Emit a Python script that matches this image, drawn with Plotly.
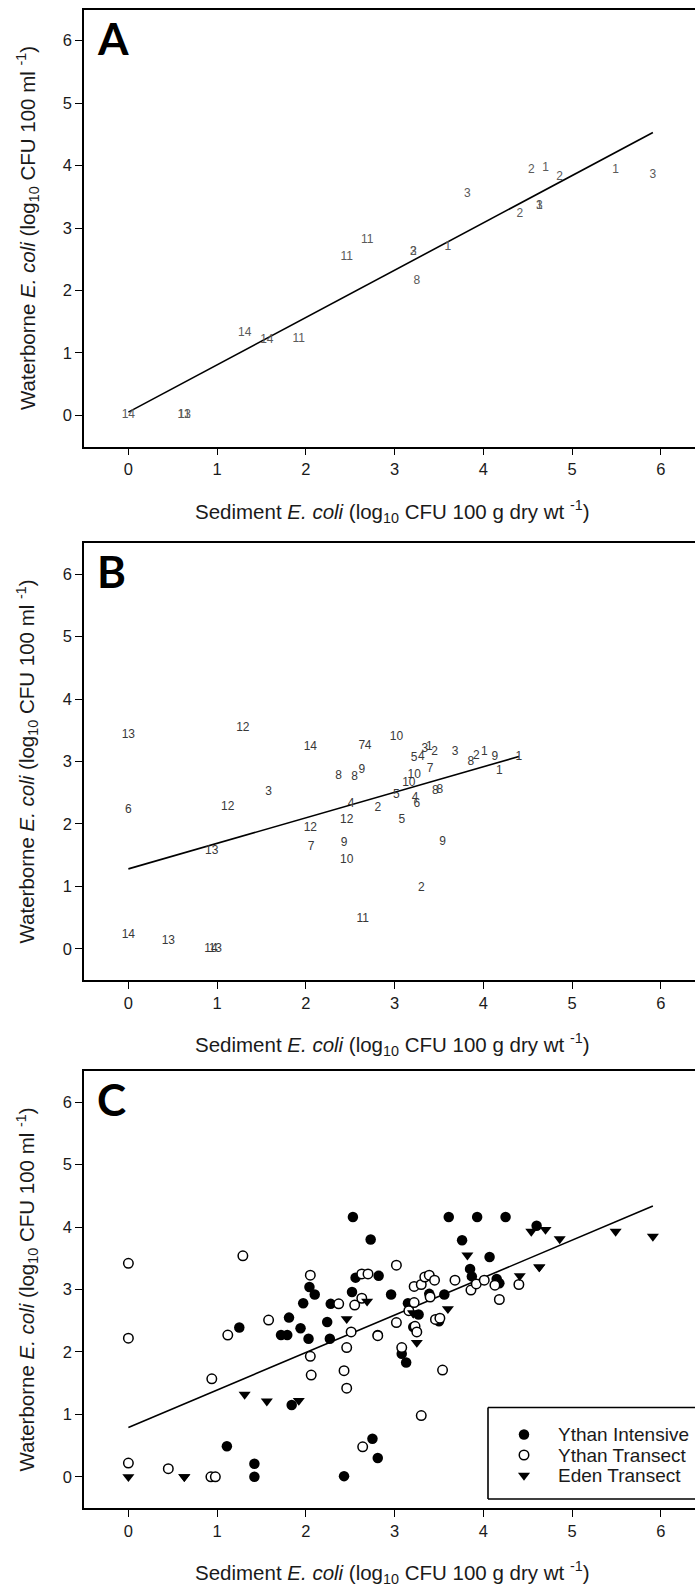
import plotly.graph_objects as go

# ---------------- data ----------------
# Panel A: Eden Transect (labels = site numbers)
a_site = ["14", "11", "13", "14", "14", "11", "11", "11", "2", "3", "8", "1",
          "3", "2", "3", "1", "2", "1", "2", "1", "3"]
a_sed = [0.00, 0.63, 0.63, 1.31, 1.56, 1.92, 2.46, 2.69, 3.21, 3.21, 3.25, 3.60,
         3.82, 4.41, 4.63, 4.63, 4.54, 4.70, 4.86, 5.49, 5.91]
a_water = [0.00, 0.00, 0.00, 1.32, 1.21, 1.22, 2.53, 2.81, 2.62, 2.62, 2.15, 2.69,
           3.55, 3.22, 3.36, 3.36, 3.93, 3.96, 3.81, 3.93, 3.85]

# Panel B: Ythan Transect (labels = site numbers)
b_site = ["13", "6", "14", "13", "14", "13", "13", "12", "12", "3", "14", "12",
          "7", "8", "8", "9", "12", "4", "9", "10", "7", "4", "2", "11",
          "10", "5", "5", "10", "10", "5", "4", "3", "1", "2", "7", "4",
          "6", "8", "8", "9", "2", "3", "8", "2", "1", "9", "1", "1"]
b_sed = [0.00, 0.00, 0.00, 0.45, 0.93, 0.98, 0.94, 1.12, 1.29, 1.58, 2.05, 2.05,
         2.06, 2.37, 2.55, 2.63, 2.46, 2.51, 2.43, 2.46, 2.63, 2.70, 2.81, 2.64,
         3.02, 3.08, 3.02, 3.16, 3.22, 3.22, 3.30, 3.34, 3.39, 3.45, 3.40, 3.23,
         3.25, 3.46, 3.51, 3.54, 3.30, 3.68, 3.86, 3.92, 4.01, 4.13, 4.18, 4.40]
b_water = [3.42, 2.22, 0.22, 0.13, 0.00, 0.00, 1.57, 2.27, 3.54, 2.51, 3.23, 1.93,
           1.63, 2.77, 2.75, 2.86, 2.07, 2.32, 1.70, 1.42, 3.25, 3.25, 2.26, 0.48,
           3.39, 2.07, 2.47, 2.66, 2.79, 3.05, 3.08, 3.20, 3.23, 3.15, 2.88, 2.41,
           2.32, 2.52, 2.54, 1.71, 0.98, 3.15, 2.99, 3.09, 3.15, 3.07, 2.84, 3.08]

# Panel C extra series: Ythan Intensive
i_sed = [2.53, 3.61, 3.93, 4.25, 2.73, 3.76, 4.60, 4.07, 3.85, 3.87, 4.15, 4.18,
         2.82, 2.56, 2.52, 2.96, 2.04, 2.10, 1.97, 2.28, 1.81, 2.24, 1.25, 1.94,
         1.72, 1.79, 2.03, 2.27, 3.56, 3.39, 3.15, 3.27, 3.21, 3.50, 3.08, 3.13,
         2.81, 1.84, 2.75, 2.81, 1.11, 1.42, 1.42, 2.43]
i_water = [4.16, 4.16, 4.16, 4.16, 3.80, 3.79, 4.02, 3.52, 3.33, 3.21, 3.17, 3.10,
           3.22, 3.19, 2.96, 2.92, 3.04, 2.92, 2.78, 2.77, 2.55, 2.48, 2.39, 2.38,
           2.27, 2.27, 2.21, 2.21, 2.92, 2.93, 2.78, 2.60, 2.40, 2.49, 1.97, 1.83,
           2.27, 1.15, 0.61, 0.30, 0.49, 0.21, 0.00, 0.01]

# regression lines: (intercept, slope)
fit_A = (0.05, 0.758)
fit_B = (1.28, 0.409)
fit_C = (0.79, 0.600)

ticks = [0, 1, 2, 3, 4, 5, 6]
legend_names = ["Ythan Intensive", "Ythan Transect", "Eden Transect"]
panel_letters = ["A", "B", "C"]

# ---------------- layout geometry (pixels) ----------------
W, H = 695, 1587
BOX_L = 84
TOPS = [9.5, 543, 1071]
PH = 437
X_RANGE = [-0.5, -0.5 + (W - BOX_L) / 88.75]
Y_RANGE = [-0.5, 6.5]

AX_FONT = dict(family="Liberation Sans, Arial, sans-serif", size=16.5, color="#1a1a1a")
LBL_FONT = "Liberation Sans, Arial, sans-serif"

fig = go.Figure()


def fit_line(fit, xs, xa, ya):
    b0, b1 = fit
    x0, x1 = min(xs), max(xs)
    fig.add_trace(go.Scatter(x=[x0, x1], y=[b0 + b1 * x0, b0 + b1 * x1], mode="lines",
                             line=dict(color="black", width=1.6), xaxis=xa, yaxis=ya,
                             hoverinfo="skip"))


# Panel A
fit_line(fit_A, a_sed, "x", "y")
fig.add_trace(go.Scatter(x=a_sed, y=a_water, text=a_site, mode="text",
                         textfont=dict(family=LBL_FONT, size=12, color="#5a5a5a"),
                         xaxis="x", yaxis="y", cliponaxis=False))
# Panel B
fit_line(fit_B, b_sed, "x2", "y2")
fig.add_trace(go.Scatter(x=b_sed, y=b_water, text=b_site, mode="text",
                         textfont=dict(family=LBL_FONT, size=12, color="#383838"),
                         xaxis="x2", yaxis="y2", cliponaxis=False))
# Panel C
fit_line(fit_C, a_sed + b_sed + i_sed, "x3", "y3")
fig.add_trace(go.Scatter(x=i_sed, y=i_water, mode="markers", name=legend_names[0],
                         marker=dict(symbol="circle", size=10.5, color="black", line=dict(width=0)),
                         xaxis="x3", yaxis="y3"))
fig.add_trace(go.Scatter(x=b_sed, y=b_water, mode="markers", name=legend_names[1],
                         marker=dict(symbol="circle", size=9.5, color="white",
                                     line=dict(width=1.5, color="black")),
                         xaxis="x3", yaxis="y3"))
fig.add_trace(go.Scatter(x=a_sed, y=a_water, mode="markers", name=legend_names[2],
                         marker=dict(symbol="triangle-down", size=10.5, color="black", line=dict(width=0)),
                         xaxis="x3", yaxis="y3"))

layout = dict(width=W, height=H, margin=dict(l=0, r=0, t=0, b=0),
              plot_bgcolor="white", paper_bgcolor="white", showlegend=False)

annotations = []
shapes = []
xtitle = "Sediment <i>E. coli</i> (log<sub>10</sub> CFU 100 g dry wt <sup>-1</sup>)"
ytitle = "Waterborne <i>E. coli</i> (log<sub>10</sub> CFU 100 ml <sup>-1</sup>)"
TITLE_FONT = dict(family=LBL_FONT, size=20.5, color="#1a1a1a")

for k, top in enumerate(TOPS):
    sfx = "" if k == 0 else str(k + 1)
    ydom = [1 - (top + PH) / H, 1 - top / H]
    common = dict(showline=True, linecolor="black", linewidth=1.6, ticks="outside",
                  ticklen=7, tickwidth=1.3, tickcolor="black", showgrid=False,
                  zeroline=False, tickfont=AX_FONT, automargin=False, fixedrange=True,
                  tickvals=ticks, ticktext=[str(t) for t in ticks])
    layout["xaxis" + sfx] = dict(common, domain=[BOX_L / W, 1], range=X_RANGE,
                                 mirror=True, anchor="y" + sfx)
    layout["yaxis" + sfx] = dict(common, domain=ydom, range=Y_RANGE,
                                 mirror=False, anchor="x" + sfx)
    bottom = top + PH
    annotations.append(dict(text=xtitle, x=392 / W, y=1 - (bottom + 64.5) / H,
                            xref="paper", yref="paper", xanchor="center", yanchor="middle",
                            showarrow=False, font=TITLE_FONT))
    annotations.append(dict(text=ytitle, x=27 / W, y=1 - (top + PH / 2) / H,
                            xref="paper", yref="paper", xanchor="center", yanchor="middle",
                            textangle=-90, showarrow=False, font=TITLE_FONT))
    annotations.append(dict(text="<b>" + panel_letters[k] + "</b>", x=95 / W,
                            y=1 - (top + 28) / H, xref="paper", yref="paper",
                            xanchor="left", yanchor="middle", showarrow=False,
                            font=dict(family="Lato, Liberation Sans, Arial", size=44,
                                      color="black")))

# legend of panel C (drawn manually, box runs off the right edge)
LG_L, LG_T, LG_B = 488, 1407.5, 1499
for (x0, y0, x1, y1) in [(LG_L, LG_T, W + 5, LG_T), (LG_L, LG_T, LG_L, LG_B),
                         (LG_L, LG_B, W + 5, LG_B)]:
    shapes.append(dict(type="line", xref="paper", yref="paper",
                       x0=x0 / W, x1=x1 / W, y0=1 - y0 / H, y1=1 - y1 / H,
                       line=dict(color="black", width=1.6)))
row_y = [1434.5, 1455, 1475.5]
x_px_to_data = lambda px: X_RANGE[0] + (px - BOX_L) / 88.75
y_px_to_data = lambda py: Y_RANGE[0] + (TOPS[2] + PH - py) / (PH / 7.0)
leg_styles = [dict(symbol="circle", size=10.5, color="black", line=dict(width=0)),
              dict(symbol="circle", size=9.5, color="white", line=dict(width=1.5, color="black")),
              dict(symbol="triangle-down", size=10.5, color="black", line=dict(width=0))]
for name, ry, st in zip(legend_names, row_y, leg_styles):
    fig.add_trace(go.Scatter(x=[x_px_to_data(524)], y=[y_px_to_data(ry)], mode="markers",
                             marker=st, xaxis="x3", yaxis="y3", cliponaxis=False,
                             hoverinfo="skip"))
    annotations.append(dict(text=name, x=556 / W, y=1 - ry / H, xref="paper", yref="paper",
                            xanchor="left", yanchor="middle", showarrow=False,
                            font=dict(family=LBL_FONT, size=19, color="#1a1a1a")))

layout["annotations"] = annotations
layout["shapes"] = shapes
fig.update_layout(**layout)
fig.write_html("out.html")
